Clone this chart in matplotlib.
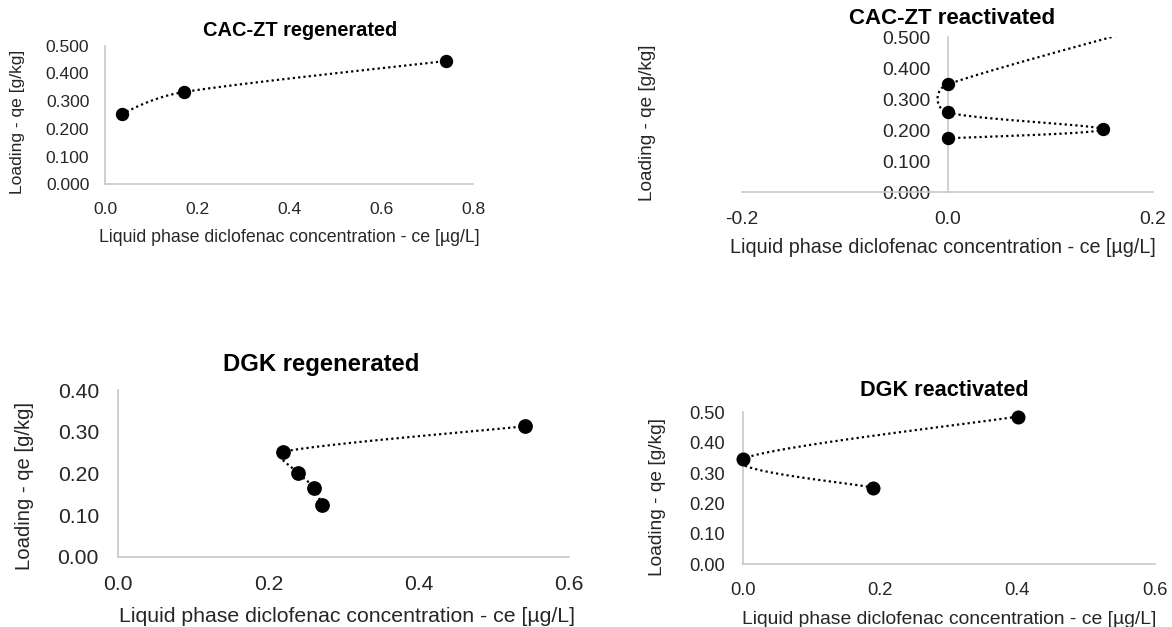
import numpy as np
import matplotlib
matplotlib.use("Agg")
import matplotlib.pyplot as plt

plt.rcParams['font.family'] = ['Liberation Sans', 'DejaVu Sans']
plt.rcParams['axes.unicode_minus'] = False

# CAC-ZT regenerated
cz_reg_ce = [0.036, 0.172, 0.742]
cz_reg_qe = [0.255, 0.333, 0.445]

# CAC-ZT reactivated (last point lies outside the plotted range)
cz_rea_ce = [0.0, 0.151, 0.0, 0.0, 0.35]
cz_rea_qe = [0.174, 0.203, 0.258, 0.348, 0.67]

# DGK regenerated
dgk_reg_ce = [0.271, 0.261, 0.240, 0.220, 0.542]
dgk_reg_qe = [0.124, 0.166, 0.200, 0.252, 0.313]

# DGK reactivated
dgk_rea_ce = [0.190, 0.001, 0.4005]
dgk_rea_qe = [0.252, 0.347, 0.486]

x_ticks_08 = [0.0, 0.2, 0.4, 0.6, 0.8]
x_ticks_pm = [-0.2, 0.0, 0.2]
x_ticks_06 = [0.0, 0.2, 0.4, 0.6]
y_ticks_05 = [0.0, 0.1, 0.2, 0.3, 0.4, 0.5]
y_ticks_04 = [0.0, 0.1, 0.2, 0.3, 0.4]

xlab = 'Liquid phase diclofenac concentration - ce [µg/L]'
ylab = 'Loading - qe [g/kg]'

W, H = 1172, 627
fig = plt.figure(figsize=(W / 100, H / 100), dpi=100)

GRAY = '#c8c8c8'
TXT = '#262626'


def px_axes(x0, x1, ytop, ybot):
    return fig.add_axes([x0 / W, 1 - ybot / H, (x1 - x0) / W, (ybot - ytop) / H])


def ftext(x, y, s, **kw):
    fig.text(x / W, 1 - y / H, s, ha='center', va='center', **kw)


def excel_smooth(ax, xs, ys, n=60):
    # Excel style bezier smoothing, done in pixel space
    bb = ax.get_window_extent()
    xa, xb = ax.get_xlim()
    ya, yb = ax.get_ylim()
    sx = bb.width / (xb - xa)
    sy = bb.height / (yb - ya)
    p = np.column_stack([np.asarray(xs) * sx, np.asarray(ys) * sy])
    ext = np.vstack([p[0], p, p[-1]])
    t = np.linspace(0, 1, n)[:, None]
    out = []
    for i in range(len(p) - 1):
        p0, p1, p2, p3 = ext[i], ext[i + 1], ext[i + 2], ext[i + 3]
        half = np.linalg.norm(p2 - p1) / 2
        a1 = (p2 - p0) / 6
        a2 = (p3 - p1) / 6
        if np.linalg.norm(a1) > half:
            a1 = a1 * half / np.linalg.norm(a1)
        if np.linalg.norm(a2) > half:
            a2 = a2 * half / np.linalg.norm(a2)
        c1 = p1 + a1
        c2 = p2 - a2
        seg = (1 - t) ** 3 * p1 + 3 * (1 - t) ** 2 * t * c1 + 3 * (1 - t) * t ** 2 * c2 + t ** 3 * p2
        out.append(seg)
    pts = np.vstack(out)
    return pts[:, 0] / sx, pts[:, 1] / sy


def style(ax, xt, xfmt, yt, yfmt, fs, xpad, ypad):
    ax.set_xticks(xt, [xfmt.format(v) for v in xt])
    ax.set_yticks(yt, [yfmt.format(v) for v in yt])
    ax.set_xlim(xt[0], xt[-1])
    ax.set_ylim(yt[0], yt[-1])
    ax.tick_params(axis='x', length=0, pad=xpad, labelsize=fs, labelcolor=TXT)
    ax.tick_params(axis='y', length=0, pad=ypad, labelsize=fs, labelcolor=TXT)
    for s in ['top', 'right']:
        ax.spines[s].set_visible(False)
    for s in ['left', 'bottom']:
        ax.spines[s].set_color(GRAY)
        ax.spines[s].set_linewidth(1.2)
    ax.patch.set_visible(False)


def draw(ax, xs, ys, ms, n_shown=None):
    sx, sy = excel_smooth(ax, xs, ys)
    ax.plot(sx, sy, color='black', lw=1.6, linestyle=(0, (1, 1.4)), zorder=2)
    k = len(xs) if n_shown is None else n_shown
    ax.plot(xs[:k], ys[:k], 'o', color='black', ms=ms, zorder=3, clip_on=False)


# panel 1
ax1 = px_axes(105, 473, 45.7, 184.3)
style(ax1, x_ticks_08, '{:.1f}', y_ticks_05, '{:.3f}', 12.6, 12.4, 11.3)
draw(ax1, cz_reg_ce, cz_reg_qe, 8.6)
ftext(300, 30, 'CAC-ZT regenerated', fontsize=14.4, fontweight='bold', color='black')
ftext(289, 237, xlab, fontsize=12.8, color=TXT)
ftext(18, 122, ylab, fontsize=12.6, color=TXT, rotation=90)

# panel 2
ax2 = px_axes(742, 1153, 37.3, 192.3)
style(ax2, x_ticks_pm, '{:.1f}', y_ticks_05, '{:.3f}', 13.9, 13.3, 12.2)
ax2.spines['left'].set_position(('data', 0))
draw(ax2, cz_rea_ce, cz_rea_qe, 8.6, n_shown=4)
ftext(952, 18, 'CAC-ZT reactivated', fontsize=16, fontweight='bold', color='black')
ftext(943, 248, xlab, fontsize=14.2, color=TXT)
ftext(648, 122.5, ylab, fontsize=13.7, color=TXT, rotation=90)

# panel 3
ax3 = px_axes(118, 569, 390, 556.7)
style(ax3, x_ticks_06, '{:.1f}', y_ticks_04, '{:.2f}', 15.2, 13.5, 13.7)
draw(ax3, dgk_reg_ce, dgk_reg_qe, 9.6)
ftext(321, 365, 'DGK regenerated', fontsize=17.2, fontweight='bold', color='black')
ftext(346.7, 616.7, xlab, fontsize=15.3, color=TXT)
ftext(25, 486, ylab, fontsize=14.6, color=TXT, rotation=90)

# panel 4
ax4 = px_axes(742.7, 1154.7, 412.3, 564.3)
style(ax4, x_ticks_06, '{:.1f}', y_ticks_05, '{:.2f}', 13.2, 13.1, 12.7)
draw(ax4, dgk_rea_ce, dgk_rea_qe, 9.1)
ftext(944, 390, 'DGK reactivated', fontsize=15.6, fontweight='bold', color='black')
ftext(949.5, 620, xlab, fontsize=13.9, color=TXT)
ftext(658, 497.5, ylab, fontsize=13.8, color=TXT, rotation=90)

fig.savefig('out.png', dpi=100, facecolor='white')
